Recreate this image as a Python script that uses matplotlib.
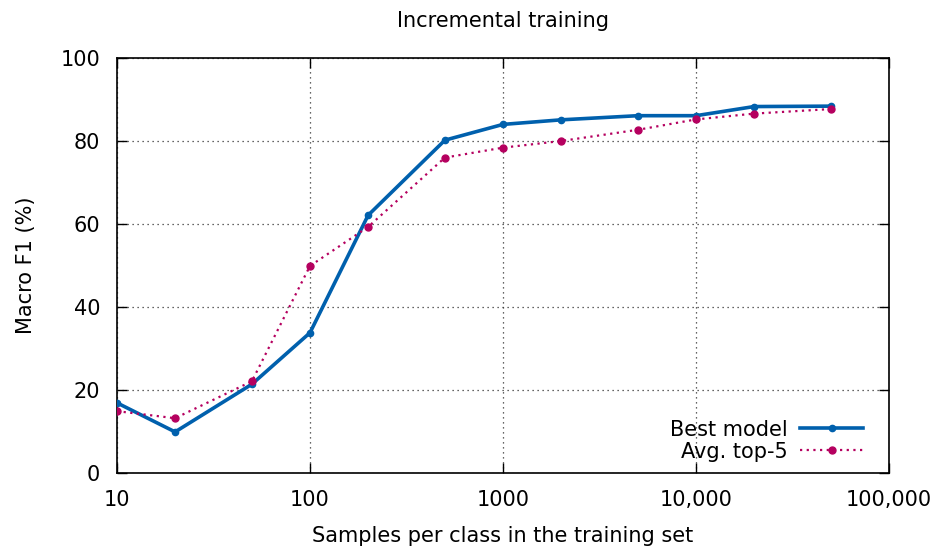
import matplotlib
matplotlib.use("Agg")
import matplotlib.pyplot as plt
from matplotlib.ticker import FixedLocator, NullLocator

samples = [10, 20, 50, 100, 200, 500, 1000, 2000, 5000, 10000, 20000, 50000]
best_model = [16.9, 9.9, 21.4, 33.8, 62.1, 80.2, 84.0, 85.1, 86.1, 86.1, 88.3, 88.4]
avg_top5 = [14.9, 13.2, 22.1, 49.9, 59.3, 76.0, 78.4, 80.0, 82.7, 85.2, 86.6, 87.7]

xticks = [10, 100, 1000, 10000, 100000]
xtick_labels = ["10", "100", "1000", "10,000", "100,000"]
yticks = [0, 20, 40, 60, 80, 100]

plt.rcParams['font.family'] = 'DejaVu Sans'
fs = 15

fig = plt.figure(figsize=(9.33, 5.46), dpi=100)
ax = fig.add_axes([117/933, 1 - 473/546, (889-117)/933, (473-58)/546])

ax.plot(samples, best_model, color='#0060ad', lw=2.6, marker='o', ms=4.5,
        label='Best model', zorder=3)
ax.plot(samples, avg_top5, color='#b5005f', lw=1.6, ls=(0, (1, 2)), marker='o',
        ms=5, label='Avg. top-5', zorder=3)

ax.set_xscale('log')
ax.set_xlim(10, 100000)
ax.set_ylim(0, 100)
ax.xaxis.set_major_locator(FixedLocator(xticks))
ax.xaxis.set_minor_locator(NullLocator())
ax.set_xticklabels(xtick_labels)
ax.set_yticks(yticks)

ax.grid(True, color='#333333', ls=(0, (1, 3)), lw=0.9)
ax.tick_params(direction='in', length=7, width=1, top=True, right=True,
               labelsize=fs)
ax.tick_params(axis='x', pad=12)
ax.tick_params(axis='y', pad=12)
for s in ax.spines.values():
    s.set_linewidth(1.2)

ax.set_xlabel('Samples per class in the training set', fontsize=fs, labelpad=12)
ax.set_ylabel('Macro F1 (%)', fontsize=fs, labelpad=18)
ax.set_title('Incremental training', fontsize=fs, pad=22)

leg = ax.legend(loc='lower right', frameon=False, fontsize=fs, markerfirst=False,
                handlelength=3.0, handletextpad=0.6, borderaxespad=0.3,
                labelspacing=0.1, bbox_to_anchor=(0.985, -0.008))

fig.savefig('out.png', dpi=100)
